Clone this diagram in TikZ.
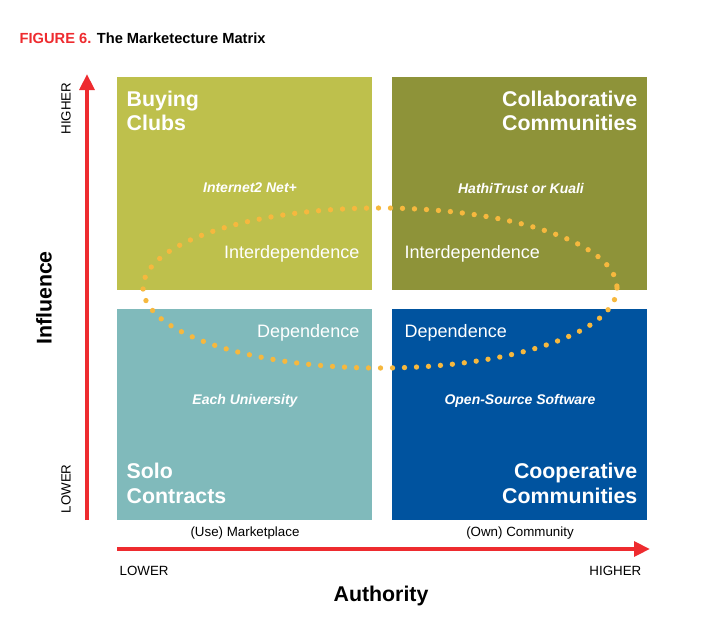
\documentclass[tikz,border=0pt]{standalone}
\usepackage{fontspec}
\setmainfont{Liberation Sans}
\usetikzlibrary{arrows.meta}
\definecolor{cA}{HTML}{BEC04C}
\definecolor{cB}{HTML}{8E9339}
\definecolor{cC}{HTML}{80BABB}
\definecolor{cD}{HTML}{00539F}
\definecolor{dotc}{HTML}{F6B83E}
\definecolor{redc}{HTML}{EE2B2F}
\begin{document}
\begin{tikzpicture}[x=0.75pt,y=-0.75pt,
 quad/.style={draw=none,inner sep=0,anchor=north west,minimum width=191.25pt,minimum height=159pt},
 ttl/.style={font=\fontsize{16}{18.5}\selectfont\bfseries,text=white,align=left},
 ex/.style={font=\fontsize{10.5}{12}\selectfont\bfseries\itshape,text=white},
 rel/.style={font=\fontsize{13.5}{15}\selectfont,text=white},
 ax/.style={font=\fontsize{10}{12}\selectfont},
 arr/.style={redc,line width=3pt,-{Triangle[length=12pt,width=11pt]}}]
\useasboundingbox (0,0) rectangle (717,621);
\node[anchor=west,font=\fontsize{11}{13}\selectfont\bfseries] (fig) at (15,38) {\textcolor{redc}{FIGURE 6.} The Marketecture Matrix};
\node[quad,fill=cA,minimum height=159.75pt] (q1) at (117,77) {};
\node[quad,fill=cB,minimum height=159.75pt] (q2) at (392,77) {};
\node[quad,fill=cC,minimum height=158.25pt] (q3) at (117,309) {};
\node[quad,fill=cD,minimum height=158.25pt] (q4) at (392,309) {};
\node[ttl,anchor=north west] (t1) at (122,86) {Buying\\Clubs};
\node[ttl,anchor=north east,align=right] (t2) at (642,86) {Collaborative\\Communities};
\node[ttl,anchor=south west] (t3) at (122,508) {Solo\\Contracts};
\node[ttl,anchor=south east,align=right] (t4) at (642,508) {Cooperative\\Communities};
\node[ex] (e1) at (250,188) {Internet2 Net+};
\node[ex] (e2) at (521,188) {HathiTrust or Kuali};
\node[ex] (e3) at (245,401) {Each University};
\node[ex] (e4) at (520,401) {Open-Source Software};
\node[rel,anchor=east] (r1) at (364,254) {Interdependence};
\node[rel,anchor=west] (r2) at (400,254) {Interdependence};
\node[rel,anchor=east] (r3) at (364,333) {Dependence};
\node[rel,anchor=west] (r4) at (400,333) {Dependence};
\draw[dotc,line width=4pt,line cap=round,dash pattern=on 0pt off 9pt] (380,288) ellipse [x radius=237,y radius=80];
\coordinate (vs) at (87,520); \coordinate (ve) at (87,74);
\draw[arr] (vs) -- (ve);
\coordinate (hs) at (117,549); \coordinate (he) at (650,549);
\draw[arr] (hs) -- (he);
\node[ax,rotate=90,anchor=east] (hi) at (66,78) {HIGHER};
\node[ax,rotate=90,anchor=west] (lo) at (66,518) {LOWER};
\node[font=\fontsize{16}{18}\selectfont\bfseries,rotate=90] (inf) at (44,298) {Influence};
\node[ax,anchor=west] (lx) at (115,571) {LOWER};
\node[ax,anchor=east] (hx) at (646,571) {HIGHER};
\node[font=\fontsize{16}{18}\selectfont\bfseries] (aut) at (381,596) {Authority};
\node[ax] (m1) at (245,533) {(Use) Marketplace};
\node[ax] (m2) at (520,533) {(Own) Community};
\end{tikzpicture}
\end{document}
